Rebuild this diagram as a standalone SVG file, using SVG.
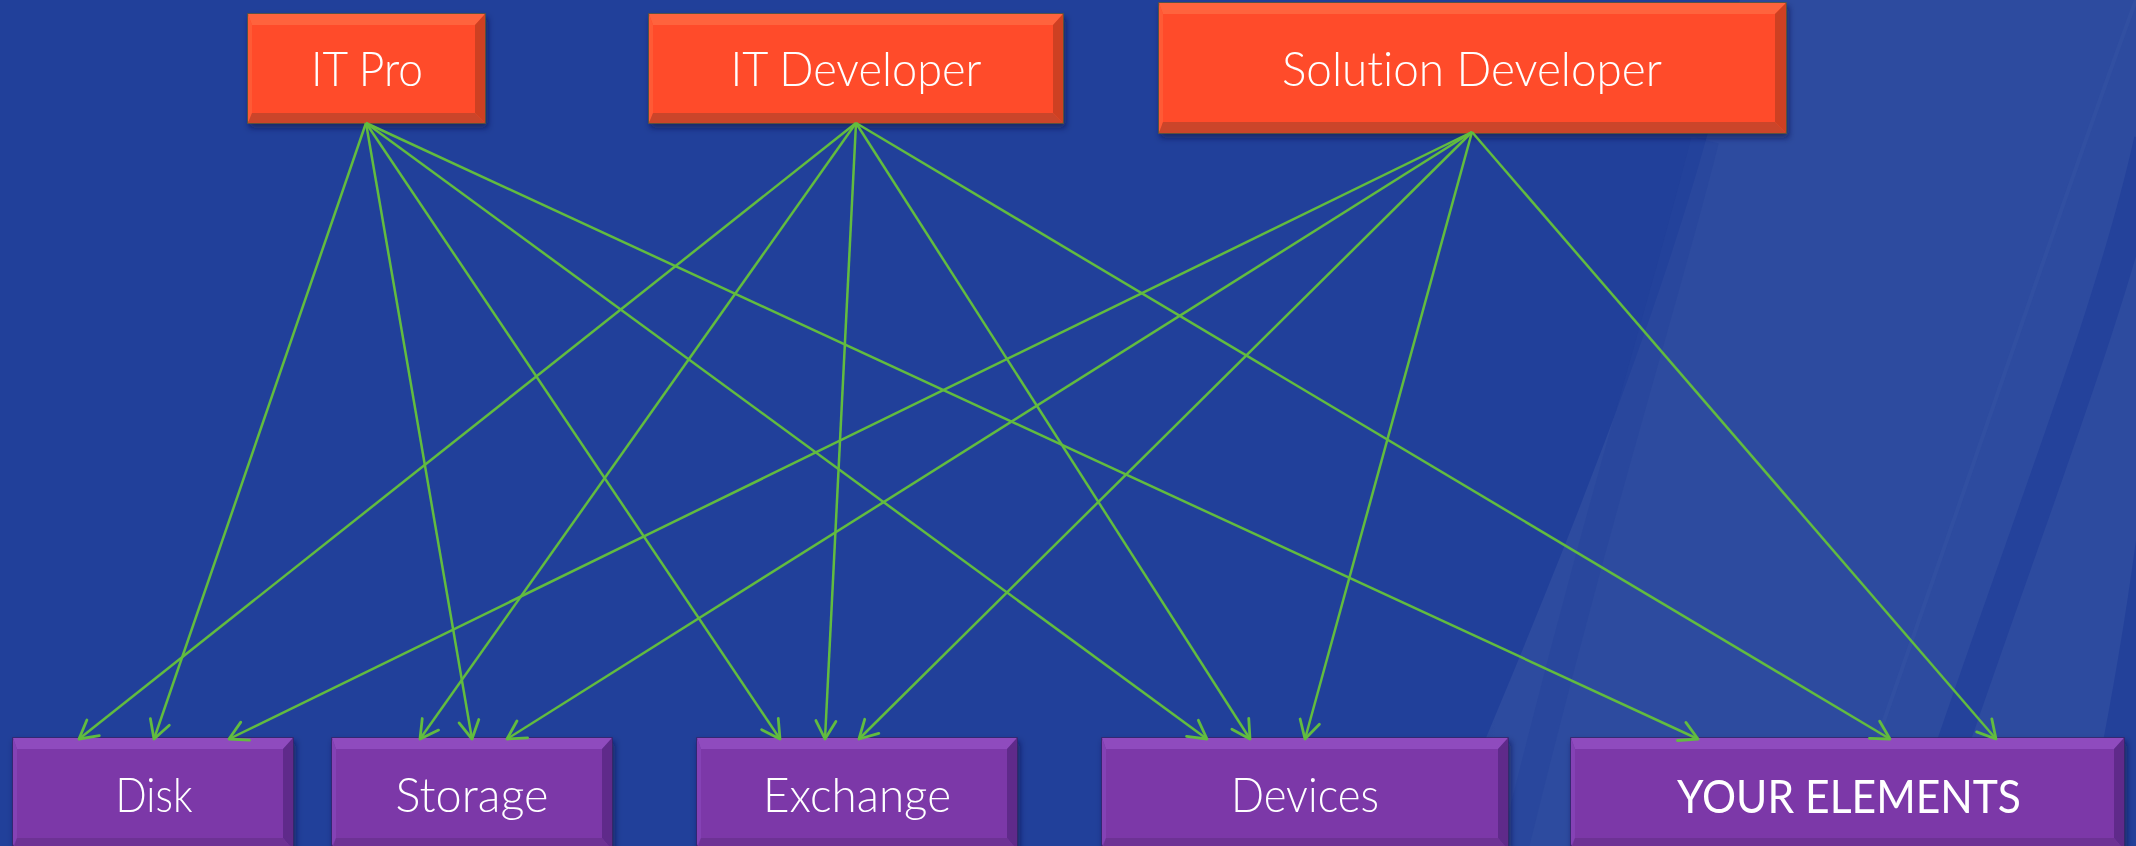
<svg xmlns="http://www.w3.org/2000/svg" width="2136" height="846" viewBox="0 0 2136 846">
  <defs>
    <style>
      .lbl { font-family: "Lato", "Open Sans", "Liberation Sans", sans-serif; font-weight: 300; font-size: 47px; fill: #ffffff; text-anchor: middle; font-variant-ligatures: none; font-feature-settings: "liga" 0, "clig" 0, "dlig" 0; }
      .lbl-strong { font-weight: 400; }
      .o-main { fill: #FF4C2B; stroke: #6a5a2c; stroke-width: 1.5; }
      .o-top { fill: #FF643E; }
      .o-left { fill: #FF5A36; }
      .o-right { fill: #CE3F24; }
      .o-bot { fill: #CB4529; }
      .p-main { fill: #7B37A8; stroke: #3b2468; stroke-width: 1.5; }
      .p-top { fill: #8F4CBE; }
      .p-left { fill: #8543B5; }
      .p-right { fill: #5F2B8A; }
      .p-bot { fill: #6D3394; }
      .conn { fill: none; stroke: #62BC3F; stroke-width: 2.5; marker-end: url(#arrow); }
    </style>
    <marker id="arrow" markerUnits="userSpaceOnUse" markerWidth="30" markerHeight="30" viewBox="-22 -15 26 30" refX="0" refY="0" orient="auto">
      <path d="M -18 -10 L 0 0 L -18 10" fill="none" stroke="#62BC3F" stroke-width="2.8" stroke-linecap="round" stroke-linejoin="round"/>
    </marker>
    <filter id="shadow" x="-10%" y="-20%" width="120%" height="150%">
      <feDropShadow dx="2" dy="4" stdDeviation="3" flood-color="#0a1440" flood-opacity="0.6"/>
    </filter>
    <linearGradient id="lightArea" x1="0" y1="0" x2="1" y2="0">
      <stop offset="0" stop-color="#2D4B9F" stop-opacity="0"/>
      <stop offset="0.08" stop-color="#2D4B9F" stop-opacity="1"/>
      <stop offset="1" stop-color="#2D4B9F" stop-opacity="1"/>
    </linearGradient>
  </defs>

  <!-- background -->
  <rect x="0" y="0" width="2136" height="846" fill="#21409A"/>
  <path d="M 1740 0 C 1700 200 1610 450 1440 846 L 2136 846 L 2136 0 Z" fill="url(#lightArea)"/>
  <path d="M 1705 140 C 1665 300 1600 500 1515 846" fill="none" stroke="#25439B" stroke-width="28" opacity="0.5"/>
  <path d="M 2150 140 C 2110 320 2020 540 1918 846" fill="none" stroke="#24429B" stroke-width="32"/>
  <path d="M 2136 0 C 2080 150 1990 420 1840 846" fill="none" stroke="#3352A4" stroke-width="4" opacity="0.6"/>
  <path d="M 2136 540 C 2120 660 2100 760 2082 846 L 2136 846 Z" fill="#23419A"/>

  <!-- top nodes -->
  <g id="node-it-pro" filter="url(#shadow)">
    <rect class="o-main" x="248" y="14" width="237" height="109"/>
    <polygon class="o-top" points="248,14 485,14 475,25 252,25"/>
    <polygon class="o-left" points="248,14 252,25 252,113 248,123"/>
    <polygon class="o-right" points="485,14 485,123 475,113 475,25"/>
    <polygon class="o-bot" points="248,123 485,123 475,113 252,113"/>
    <text class="lbl" x="367" y="86" textLength="112" lengthAdjust="spacingAndGlyphs">IT Pro</text>
  </g>
  <g id="node-it-developer" filter="url(#shadow)">
    <rect class="o-main" x="649" y="14" width="414" height="109"/>
    <polygon class="o-top" points="649,14 1063,14 1053,25 653,25"/>
    <polygon class="o-left" points="649,14 653,25 653,113 649,123"/>
    <polygon class="o-right" points="1063,14 1063,123 1053,113 1053,25"/>
    <polygon class="o-bot" points="649,123 1063,123 1053,113 653,113"/>
    <text class="lbl" x="856" y="86" textLength="251" lengthAdjust="spacingAndGlyphs">IT Developer</text>
  </g>
  <g id="node-solution-developer" filter="url(#shadow)">
    <rect class="o-main" x="1159" y="3" width="627" height="130"/>
    <polygon class="o-top" points="1159,3 1786,3 1775,14 1163,14"/>
    <polygon class="o-left" points="1159,3 1163,14 1163,122 1159,133"/>
    <polygon class="o-right" points="1786,3 1786,133 1775,122 1775,14"/>
    <polygon class="o-bot" points="1159,133 1786,133 1775,122 1163,122"/>
    <text class="lbl" x="1472" y="86" textLength="380" lengthAdjust="spacingAndGlyphs">Solution Developer</text>
  </g>

  <!-- bottom nodes -->
  <g id="node-disk" filter="url(#shadow)">
    <rect class="p-main" x="13" y="738" width="280" height="112"/>
    <polygon class="p-top" points="13,738 293,738 283,749 17,749"/>
    <polygon class="p-left" points="13,738 17,749 17,838 13,846"/>
    <polygon class="p-right" points="293,738 293,850 283,838 283,749"/>
    <polygon class="p-bot" points="13,850 293,850 283,838 17,838"/>
    <text class="lbl" x="154" y="812" textLength="77" lengthAdjust="spacingAndGlyphs">Disk</text>
  </g>
  <g id="node-storage" filter="url(#shadow)">
    <rect class="p-main" x="332" y="738" width="280" height="112"/>
    <polygon class="p-top" points="332,738 612,738 602,749 336,749"/>
    <polygon class="p-left" points="332,738 336,749 336,838 332,846"/>
    <polygon class="p-right" points="612,738 612,850 602,838 602,749"/>
    <polygon class="p-bot" points="332,850 612,850 602,838 336,838"/>
    <text class="lbl" x="472" y="812" textLength="153" lengthAdjust="spacingAndGlyphs">Storage</text>
  </g>
  <g id="node-exchange" filter="url(#shadow)">
    <rect class="p-main" x="697" y="738" width="320" height="112"/>
    <polygon class="p-top" points="697,738 1017,738 1007,749 701,749"/>
    <polygon class="p-left" points="697,738 701,749 701,838 697,846"/>
    <polygon class="p-right" points="1017,738 1017,850 1007,838 1007,749"/>
    <polygon class="p-bot" points="697,850 1017,850 1007,838 701,838"/>
    <text class="lbl" x="857" y="812" textLength="188" lengthAdjust="spacingAndGlyphs">Exchange</text>
  </g>
  <g id="node-devices" filter="url(#shadow)">
    <rect class="p-main" x="1102" y="738" width="406" height="112"/>
    <polygon class="p-top" points="1102,738 1508,738 1498,749 1106,749"/>
    <polygon class="p-left" points="1102,738 1106,749 1106,838 1102,846"/>
    <polygon class="p-right" points="1508,738 1508,850 1498,838 1498,749"/>
    <polygon class="p-bot" points="1102,850 1508,850 1498,838 1106,838"/>
    <text class="lbl" x="1305" y="812" textLength="148" lengthAdjust="spacingAndGlyphs">Devices</text>
  </g>
  <g id="node-your-elements" filter="url(#shadow)">
    <rect class="p-main" x="1571" y="738" width="553" height="112"/>
    <polygon class="p-top" points="1571,738 2124,738 2114,749 1575,749"/>
    <polygon class="p-left" points="1571,738 1575,749 1575,838 1571,846"/>
    <polygon class="p-right" points="2124,738 2124,850 2114,838 2114,749"/>
    <polygon class="p-bot" points="1571,850 2124,850 2114,838 1575,838"/>
    <text class="lbl lbl-strong" x="1849" y="813" textLength="344" lengthAdjust="spacingAndGlyphs">YOUR ELEMENTS</text>
  </g>

  <!-- connectors -->
  <g id="connectors">
    <line class="conn" x1="366" y1="123" x2="154" y2="739"/>
    <line class="conn" x1="366" y1="123" x2="472" y2="739"/>
    <line class="conn" x1="366" y1="123" x2="780" y2="739"/>
    <line class="conn" x1="366" y1="123" x2="1207" y2="739"/>
    <line class="conn" x1="366" y1="123" x2="1698" y2="739"/>
    <line class="conn" x1="856" y1="123" x2="79" y2="739"/>
    <line class="conn" x1="856" y1="123" x2="420" y2="739"/>
    <line class="conn" x1="856" y1="123" x2="825" y2="739"/>
    <line class="conn" x1="856" y1="123" x2="1250" y2="739"/>
    <line class="conn" x1="856" y1="123" x2="1890" y2="739"/>
    <line class="conn" x1="1472" y1="132" x2="229" y2="739"/>
    <line class="conn" x1="1472" y1="132" x2="507" y2="739"/>
    <line class="conn" x1="1472" y1="132" x2="859" y2="739"/>
    <line class="conn" x1="1472" y1="132" x2="1305" y2="739"/>
    <line class="conn" x1="1472" y1="132" x2="1996" y2="739"/>
  </g>
</svg>
